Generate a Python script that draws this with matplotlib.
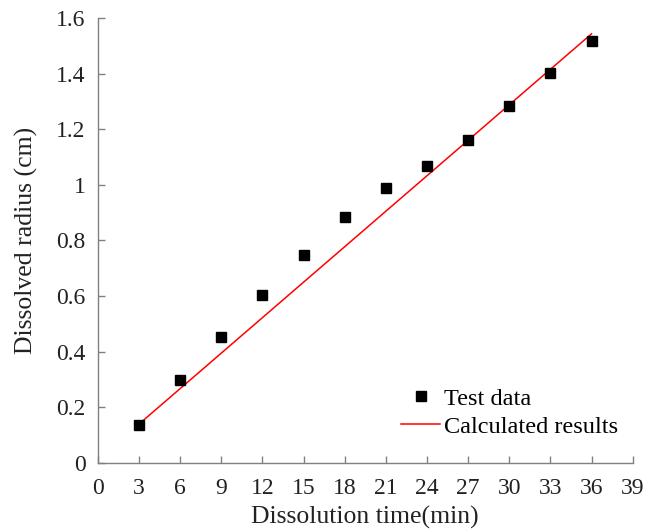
import numpy as np
import matplotlib
matplotlib.use("Agg")
import matplotlib.pyplot as plt

# test data
time_min = [3, 6, 9, 12, 15, 18, 21, 24, 27, 30, 33, 36]
radius_cm = [0.137, 0.299, 0.453, 0.604, 0.748, 0.885, 0.989, 1.068, 1.162, 1.284, 1.403, 1.518]

# calculated line (end points)
calc_time = [3, 36]
calc_radius = [0.14, 1.543]

x_ticks = np.arange(0, 40, 3)
y_ticks = [0, 0.2, 0.4, 0.6, 0.8, 1.0, 1.2, 1.4, 1.6]
y_labels = ["0", "0.2", "0.4", "0.6", "0.8", "1", "1.2", "1.4", "1.6"]

plt.rcParams['font.family'] = ['Liberation Serif', 'DejaVu Serif']
plt.rcParams['font.size'] = 17

fig = plt.figure(figsize=(6.57, 5.32), dpi=100)
ax = fig.add_axes([0.149, 0.1297, 0.814, 0.8365])

ax.plot(time_min, radius_cm, 's', color='black', markersize=7, label='Test data', zorder=3)
ax.plot(calc_time, calc_radius, '-', color='red', linewidth=1.1, label='Calculated results')

ax.set_xlim(0, 39)
ax.set_ylim(0, 1.6)
ax.set_xticks(x_ticks)
ax.set_yticks(y_ticks)
ax.set_yticklabels(y_labels)

for side in ['top', 'right']:
    ax.spines[side].set_visible(False)
for side in ['left', 'bottom']:
    ax.spines[side].set_color('#808080')
    ax.spines[side].set_linewidth(1.0)
ax.tick_params(direction='in', length=5, width=1.0, color='#808080', labelcolor='#222222')
ax.tick_params(axis='x', pad=11)
ax.tick_params(axis='y', pad=9)

ax.set_xlabel('Dissolution time(min)', color='#222222', fontsize=18.5, labelpad=5)
ax.set_ylabel('Dissolved radius (cm)', color='#222222', fontsize=18.5, labelpad=13)

ax.legend(loc='lower right', bbox_to_anchor=(1.0, 0.024), frameon=False, fontsize=17.5,
          handlelength=1.6, handletextpad=0.15, labelspacing=0.25, borderaxespad=0.2)

fig.savefig('out.png', dpi=100)
